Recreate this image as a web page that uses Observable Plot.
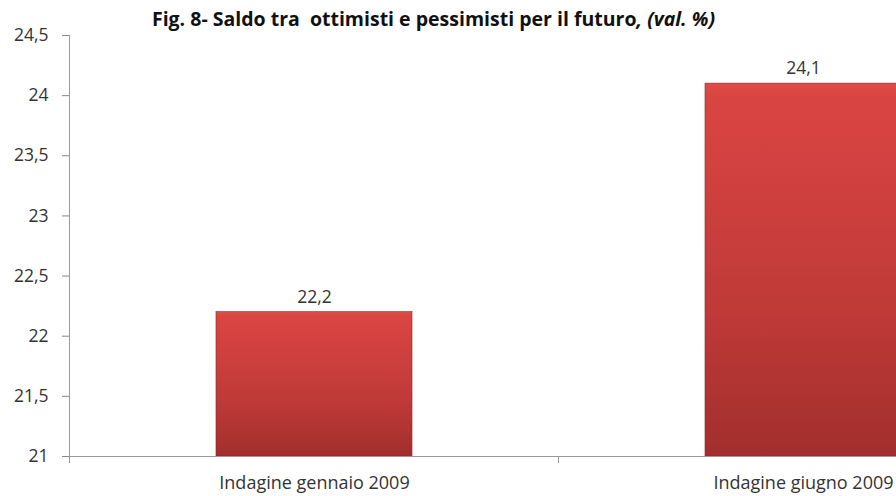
<!DOCTYPE html>
<html>
<head>
<meta charset="utf-8">
<script src="https://cdn.jsdelivr.net/npm/d3@7"></script>
<script src="https://cdn.jsdelivr.net/npm/@observablehq/plot@0.6"></script>
<style>
  html, body { margin: 0; padding: 0; background: #fff; overflow: hidden; width: 896px; height: 496px; position: relative; }
  #title { position: absolute; z-index: 2; left: 0; top: 6px; width: 867px; text-align: center; font-family: "Open Sans", sans-serif; font-weight: bold; font-size: 19.5px; line-height: 26px; color: #111; white-space: pre; }
  #chart { position: absolute; z-index: 1; left: 0; top: 0; width: 1100px; }
  #chart svg { max-width: none !important; }
</style>
</head>
<body>
<div id="title">Fig. 8- Saldo tra  ottimisti e pessimisti per il futuro<i>, (val. %)</i></div>
<div id="chart"></div>
<script>
const categories = ["Indagine gennaio 2009", "Indagine giugno 2009"];
const values = [22.2, 24.1];
const yTicks = [21, 21.5, 22, 22.5, 23, 23.5, 24, 24.5];

const data = categories.map((c, i) => ({cat: c, val: values[i]}));
const fmt = d => String(d).replace(".", ",");
const font = "'Open Sans', sans-serif";

const plot = Plot.plot({
  width: 1060,
  height: 496,
  marginLeft: 69,
  marginRight: 13,
  marginTop: 35,
  marginBottom: 40,
  style: {fontFamily: font, fontSize: "17px", color: "#333", background: "transparent", maxWidth: "none"},
  x: {domain: categories, paddingInner: 0.6, paddingOuter: 0.3, label: null},
  y: {domain: [21, 24.5], label: null},
  marks: [
    Plot.barY(data, {x: "cat", y1: 21, y2: "val", fill: "url(#barGrad)", stroke: "#8e2624", strokeWidth: 0.6}),
    Plot.text(data, {x: "cat", y: "val", text: d => fmt(d.val), dy: -15, fontSize: 17.5, fill: "#333"}),
    Plot.axisY({ticks: yTicks, tickFormat: fmt, tickSize: 7, tickPadding: 14, stroke: "#888", fontSize: 17.5}),
    Plot.axisX({tickSize: 0, tickPadding: 20, fontSize: 18}),
    Plot.frame({anchor: "left", stroke: "#999"}),
    Plot.frame({anchor: "bottom", stroke: "#999"})
  ]
});

const svg = d3.select(plot);
const defs = svg.insert("defs", ":first-child");
const g = defs.append("linearGradient").attr("id", "barGrad").attr("x1", 0).attr("y1", 0).attr("x2", 0).attr("y2", 1);
g.append("stop").attr("offset", "0%").attr("stop-color", "#e04c48");
g.append("stop").attr("offset", "3%").attr("stop-color", "#da4542");
g.append("stop").attr("offset", "60%").attr("stop-color", "#c03a38");
g.append("stop").attr("offset", "100%").attr("stop-color", "#a22f2d");

// category boundary ticks from the band scale
const xs = plot.scale("x");
const step = xs.step, bw = xs.bandwidth;
const bounds = [];
categories.forEach((c, i) => {
  const left = xs.apply(c) - (step - bw) / 2;
  bounds.push(left);
  if (i === categories.length - 1) bounds.push(left + step);
});
const ys = plot.scale("y");
const y0 = ys.apply(21);
svg.append("g").selectAll("line").data(bounds).join("line")
  .attr("x1", d => d).attr("x2", d => d)
  .attr("y1", y0).attr("y2", y0 + 7)
  .attr("stroke", "#999");

document.getElementById("chart").appendChild(plot);
</script>
</body>
</html>
